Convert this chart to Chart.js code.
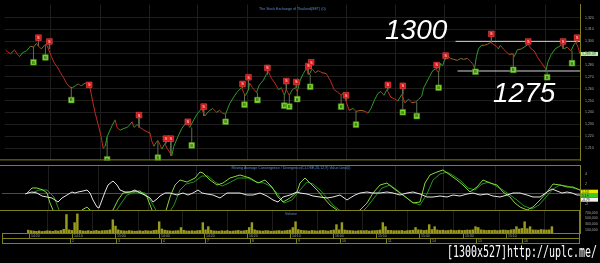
<!DOCTYPE html>
<html lang="en">
<head>
  <meta charset="UTF-8" />
  <title>SET intraday</title>
  <script src="https://cdn.jsdelivr.net/npm/chart.js"></script>
  <style>
    html, body { margin: 0; padding: 0; background: #000; }
    body { width: 600px; height: 263px; position: relative; overflow: hidden; font-family: 'Liberation Sans', Arial, sans-serif; }
    canvas { position: absolute; left: 0; }
    #priceChart { top: 0; }
    #macdChart { top: 165px; }
    #volChart { top: 211px; }
    .level { position: absolute; color: #fff; font-style: italic; font-size: 28px; line-height: 28px; }
    #mark { position: absolute; left: 447px; top: 245px; color: #fff; font-family: 'DejaVu Sans Mono', monospace;
            font-size: 15px; line-height: 15px; transform: scaleX(0.664); transform-origin: left top; white-space: nowrap; }
  </style>
</head>
<body>
  <canvas id="priceChart" width="600" height="165"></canvas>
  <canvas id="macdChart" width="600" height="46"></canvas>
  <canvas id="volChart" width="600" height="33"></canvas>
  <div class="level" style="left:385px;top:16px">1300</div>
  <div class="level" style="left:493px;top:79px">1275</div>
  <div id="mark">[1300x527]http://uplc.me/</div>

  <script>
    // bar index along the time axis (0 .. 578)
    const priceBars = [1,3,6,10,13,15,18,22,26,29,32,34,37,40,42,44,47,50,53,56,59,62,65,68,71,74,77,81,84,86,
      88,91,94,97,99,101,103,105,108,111,113,116,120,123,126,128,130,133,136,140,144,146,148,150,152,154,156,158,161,163,
      165,168,170,174,178,181,183,186,190,194,198,201,205,209,213,216,219,222,226,230,234,238,241,242,245,246,249,253,256,260,
      263,265,268,272,275,278,281,283,286,289,292,294,297,300,303,306,309,312,315,319,323,327,331,335,338,341,343,346,350,353,
      358,362,365,368,372,375,378,381,384,388,392,395,399,402,406,409,413,416,419,421,424,427,430,433,436,438,440,442,446,448,
      451,455,458,461,465,468,471,472,474,476,479,482,485,488,491,494,496,498,501,504,507,510,512,515,519,522,526,529,532,535,
      538,541,544,546,549,553,556,559,562,565,569,572,574,576,578];
    const priceValues = [1292.8,1291.2,1289.6,1292.8,1288.8,1287.2,1290.4,1292,1295.9,1295.2,
      1298.3,1295.9,1293.6,1296.7,1297.5,1293.6,1287.2,1281.6,1278.4,1273.6,
      1269.7,1264.9,1261.7,1260.9,1262.5,1264.1,1262.5,1264.9,1262.5,1260.1,
      1251.3,1239.4,1229.8,1219.5,1209.9,1211.5,1219.5,1223.5,1229,1233.8,
      1227.4,1225.1,1226.6,1227.4,1229.8,1232.2,1227.4,1229.8,1227.4,1225.1,
      1223.5,1222.7,1215.5,1211.5,1214.7,1216.3,1213.1,1209.1,1213.9,1209.9,
      1207.5,1203.5,1211.5,1219.5,1226.6,1229.8,1232.2,1227.4,1233.8,1239.4,
      1243.4,1237,1241,1243.4,1240.2,1241.8,1239.4,1238.6,1247.4,1252.9,
      1257.7,1260.9,1255.3,1254.5,1259.3,1264.9,1260.9,1256.9,1263.3,1267.3,
      1272.1,1274.4,1268.9,1264.1,1259.3,1260.9,1254.5,1259.3,1254.5,1259.3,
      1260.9,1257.7,1267.3,1272.8,1276.8,1272.1,1276.8,1273.6,1275.2,1273.6,
      1272.8,1267.3,1259.3,1256.9,1254.5,1256.9,1249.7,1241.8,1243.4,1241,
      1241.8,1241,1239.4,1243.4,1251.3,1256.1,1257.7,1254.5,1259.3,1252.9,
      1251.3,1249.7,1255.3,1248.2,1251.3,1248.2,1248.9,1251.3,1253.7,1260.9,
      1265.7,1270.5,1275.2,1276.8,1273.6,1281.6,1279.2,1284.8,1287.2,1285.6,
      1284.8,1284,1285.6,1284.8,1285.6,1283.2,1280,1276.8,1287.2,1293.6,
      1296.7,1296.7,1297.5,1299.1,1297.5,1295.9,1293.6,1296.7,1293.6,1291.2,
      1288.8,1289.6,1287.2,1292.8,1293.6,1295.2,1297.5,1293.6,1292,1287.2,
      1283.2,1280,1276,1283.2,1288.8,1293.6,1295.2,1296.7,1293.6,1295.2,
      1292,1297.5,1299.1,1295.2,1289.39];
    const lastPrice = 1289.39;

    // sell (S) and buy (B) signal markers
    const sellBars = [34,45,85,135,162,167,184,200,239,245,264,283,293,305,308,343,385,400,434,443,489,526,561,575];
    const sellPrices = [1303.1,1299.9,1263.3,1237.8,1217.9,1217.9,1232.2,1245,1264.1,1269.7,1277.6,1266.5,1265.7,1279.2,1282.4,1254.5,1263.3,1262.5,1280,1288,1306.3,1299.9,1299.9,1303.1];
    const buyBars = [29,41,67,103,154,188,222,241,254,281,286,294,307,338,353,400,414,436,473,511,545,570];
    const buyPrices = [1282.4,1286.4,1250.5,1200.4,1201.9,1212.3,1232.2,1246.6,1250.5,1245.8,1245,1251.3,1261.7,1245,1229.8,1240.2,1237,1260.9,1274.4,1276,1269.7,1281.6];

    // drawn resistance / support levels
    const levelPrices = [1300, 1275];
    const levelStarts = [453, 455];
    const levelEnd = 578;

    // MACD panel
    const whiteBars = [23,26,30,35,40,45,50,53,56,60,65,70,73,76,81,85,88,91,95,97,100,103,106,111,115,118,123,128,133,138,
      143,148,151,155,158,163,168,175,181,186,191,196,200,205,211,218,225,231,238,245,251,258,265,271,276,281,288,295,298,305,
      311,318,325,331,338,345,348,353,358,365,371,378,385,391,398,405,411,418,425,431,438,445,451,458,465,471,478,485,491,498,
      505,511,518,525,531,538,545,550,555,560,565,570,575,578];
    const whiteVals = [0,0.2,0.4,0.2,-0.4,-0.6,-0.8,-1.2,-1.6,-0.8,-0.2,0.4,0.2,0.4,0.6,0.8,0.2,-1.2,-2.6,-2.8,
      -1.2,0.4,1.8,2.6,1.8,0.8,0.4,0.4,0.8,0.2,-0.2,-0.8,-1.6,-1,-0.4,0.2,0.2,-0.2,0.2,-0.2,
      0.2,0.8,0.2,0,-0.2,-0.8,0.2,0.2,0.2,-0.2,-0.2,0.2,-0.4,-1.2,-1.6,-0.6,-0.2,0.4,0.2,0,
      -0.4,-0.6,-0.8,-0.6,-0.2,-1.2,-0.8,-0.2,0.2,0.4,0.2,0.2,0.4,0.2,-0.2,0.2,0.4,0,-0.6,-0.6,
      -0.4,-0.6,-0.2,-0.4,0,0.2,-0.2,0,-0.4,-0.6,-0.2,0.2,0.2,-0.2,-0.6,-0.6,0.4,1,0.6,0.2,
      0.4,0.2,-0.2,-0.2];
    const macdBars = [25,30,35,41,45,48,51,55,70,80,85,88,95,105,111,116,121,128,138,145,150,155,163,168,173,178,185,193,198,201,
      208,215,221,228,238,248,256,263,270,276,281,288,295,298,303,308,315,321,328,335,343,352,358,365,371,378,385,391,398,405,
      411,418,423,428,435,441,448,455,461,468,475,481,488,495,501,508,513,518,525,531,538,545,551,558,565,571,578];
    const macdVals = [0.2,1.2,1.2,0.8,0.2,-1.8,-3.2,-4.4,-4.8,-3.2,-2.6,-3.2,-4.4,-4,-3.2,-1.2,0.2,0.4,0.6,-0.6,
      -3.2,-4.4,-4,-0.6,1.8,2.8,2.4,3.2,4.4,4.2,2.8,1.8,2.2,3.2,3.8,3.2,2.2,2.8,1.4,-0.6,
      -1.6,-0.8,0.4,2.2,3.2,2.2,0.8,-0.6,-2.2,-3.2,-4.4,-4,-3.2,-1.8,0.2,1.8,2.2,1.2,0.2,-0.8,
      -1.8,-1.6,2.2,3.8,4.4,4.8,3.8,2.8,1.8,0.4,1.4,2.8,2.2,1.8,0.4,-0.6,-1.8,-2.6,-3.2,-2.6,
      -1.2,0.4,2,1.8,1.4,1.4,0.8];
    const sigBars = [30,37,45,52,57,62,78,86,92,100,112,118,125,133,143,150,156,165,172,178,184,192,200,206,213,220,227,236,246,254,
      262,268,275,282,290,298,305,311,318,325,332,340,348,358,365,372,380,388,395,402,410,418,425,431,438,445,452,459,466,473,
      480,487,494,501,508,515,522,530,537,544,551,558,565,571,578];
    const sigVals = [0.2,0.8,0.8,-0.6,-3.2,-4.4,-4.4,-3.2,-3.6,-4.4,-4,-2.2,-0.2,0.4,0.2,-1.8,-4,-4.4,-2.2,0.8,
      2,2.4,3.6,3.6,2.4,1.6,2.2,3.2,3.2,2.4,2.2,1.6,0.2,-1.8,-1.2,0.8,2.4,2,0.8,-0.8,
      -2.4,-3.6,-4.4,-4,-2.6,-0.8,1.2,1.8,0.8,-0.4,-1.6,-2.2,0,2.8,4,4.4,3.6,2.6,1.2,0.8,
      2,2.4,1.6,0.8,-0.2,-1.2,-2.4,-3,-2.2,-0.6,1,1.8,1.6,1.2,0.8];
    const macdBoxLabels = ['1.53', '1.19', '-0.79'];
    const macdBoxValues = [0.46, -0.3, -1.14];
    const macdBoxColors = ['#e6e600', '#3cc81e', '#f0f0f0'];

    // volume (thousands), one bar every 3 bar-steps from 0
    const volStep = 3;
    const volumes = [110,90,80,70,85,65,75,90,80,70, 95,80,100,140,650,120,100,370,670,100,
      85,80,95,75,85,100,80,90,95,100, 120,470,250,120,95,85,80,95,85,75,
      80,90,75,95,85,80,100,110,400,150, 110,95,85,80,90,95,200,105,85,80,
      90,80,95,100,370,120,230,105,85,80, 75,90,80,95,75,80,90,100,80,90,
      105,200,370,120,95,85,80,95,90,75, 80,90,95,80,90,100,115,200,400,130,
      105,95,90,80,100,90,80,95,100,90, 80,100,115,300,120,370,115,100,95,90,
      80,90,95,90,100,80,90,95,100,115, 370,230,105,100,90,95,90,100,80,95,
      100,110,200,120,115,100,110,300,130,230, 115,100,110,95,100,115,100,95,110,100,
      105,115,110,120,230,200,120,110,100,105, 100,110,95,105,115,110,100,120,130,230,
      150,170,400,160,230,120,115,110,130,120, 115,120,230];
    const volTicks = [100000, 300000, 500000, 700000];

    // time axis
    const dayBars = [46,96,146,194,244,294,343,393,442,493,543];
    const dayLabels = ['2','3','4','7','8','9','10','11','14','15','16'];
    const timeTickBars = [1,48,95,144,193,241,288,335,383,430,478,526];
    const timeLabels = ['14:20','14:10','15:00','14:40','14:20','16:20','14:10','16:00','15:50','15:40','15:30','15:10'];

    const UP = '#2f9b2a', DOWN = '#c42a1e', FLAT = '#a8641c';
    const OLIVE = '#80801a';
    const GRID = '#1e1e1e';
    const FAMILY = '"Liberation Sans", Arial, sans-serif';
    const SMALL = { size: 3.5, family: FAMILY };
    const TITLE_BLUE = '#5b8dd0';

    const xy = (xs, ys) => xs.map((x, i) => ({ x: x, y: ys[i] }));

    // price of the line nearest to a bar (for marker stems)
    function priceAt(bar) {
      let k = 0;
      priceBars.forEach((b, i) => { if (Math.abs(b - bar) < Math.abs(priceBars[k] - bar)) k = i; });
      return priceValues[k];
    }

    function xScale() {
      return {
        type: 'linear', min: 0, max: 578,
        afterBuildTicks: s => { s.ticks = dayBars.map(v => ({ value: v })); },
        ticks: { display: false },
        grid: { color: GRID, drawTicks: false },
        border: { display: false }
      };
    }

    function yScale(min, max, ticks, fmt, gridColor) {
      return {
        position: 'right', min: min, max: max,
        afterBuildTicks: s => { s.ticks = ticks.map(v => ({ value: v })); },
        afterFit: s => { s.width = 20; s.paddingTop = 0; s.paddingBottom = 0; },
        ticks: { font: SMALL, color: '#a6a6a6', padding: 5, autoSkip: false, callback: fmt },
        grid: { color: gridColor || GRID, drawTicks: false },
        border: { color: OLIVE }
      };
    }

    const base = {
      responsive: false,
      animation: false,
      events: [],
      plugins: { legend: { display: false }, tooltip: { enabled: false } }
    };

    // panel title + frame lines
    function panelPlugin(title, titleY, top, bottom) {
      return {
        id: 'panel',
        afterDraw(chart) {
          const { ctx, chartArea: a } = chart;
          ctx.save();
          ctx.strokeStyle = OLIVE;
          ctx.lineWidth = 1;
          ctx.beginPath();
          if (top) { ctx.moveTo(0, a.top + 0.5); ctx.lineTo(a.right, a.top + 0.5); }
          if (bottom) { ctx.moveTo(0, a.bottom - 0.5); ctx.lineTo(a.right, a.bottom - 0.5); }
          ctx.stroke();
          ctx.fillStyle = TITLE_BLUE;
          ctx.font = '3.6px ' + FAMILY;
          ctx.textAlign = 'center';
          ctx.textBaseline = 'middle';
          ctx.fillText(title, (a.left + a.right) / 2, a.top + titleY);
          ctx.restore();
        }
      };
    }

    // stems from markers to the price line
    const stemData = [];
    sellBars.forEach((b, i) => stemData.push({ x: b, y: sellPrices[i] }, { x: b, y: priceAt(b) }, { x: b, y: null }));
    buyBars.forEach((b, i) => stemData.push({ x: b, y: buyPrices[i] }, { x: b, y: priceAt(b) }, { x: b, y: null }));

    const levelData = [];
    levelPrices.forEach((p, i) => levelData.push({ x: levelStarts[i], y: p }, { x: levelEnd, y: p }, { x: levelEnd, y: null }));

    const markerText = {
      id: 'markerText',
      afterDatasetsDraw(chart) {
        const { ctx, scales: { x, y } } = chart;
        ctx.save();
        ctx.font = 'bold 4px ' + FAMILY;
        ctx.textAlign = 'center';
        ctx.textBaseline = 'middle';
        ctx.fillStyle = '#ffb4b4';
        sellBars.forEach((b, i) => ctx.fillText('S', x.getPixelForValue(b), y.getPixelForValue(sellPrices[i]) + 0.3));
        ctx.fillStyle = '#2c6412';
        buyBars.forEach((b, i) => ctx.fillText('B', x.getPixelForValue(b), y.getPixelForValue(buyPrices[i]) + 0.3));
        // current price box on the axis
        const a = chart.chartArea, py = y.getPixelForValue(lastPrice);
        ctx.fillStyle = '#c4efb4';
        ctx.fillRect(a.right + 1, py - 2, 17, 4);
        ctx.fillStyle = '#2a5a22';
        ctx.font = '3.5px ' + FAMILY;
        ctx.textAlign = 'left';
        ctx.fillText(lastPrice.toLocaleString('en-US'), a.right + 2, py + 0.2);
        ctx.restore();
      }
    };

    new Chart(document.getElementById('priceChart'), {
      type: 'line',
      data: {
        datasets: [
          {
            data: xy(sellBars, sellPrices), showLine: false, order: 0,
            pointStyle: 'rect', pointRadius: 4, backgroundColor: '#d41616', borderColor: '#f04a4a', borderWidth: 0.6
          },
          {
            data: xy(buyBars, buyPrices), showLine: false, order: 0,
            pointStyle: 'rect', pointRadius: 4, backgroundColor: '#80d630', borderColor: '#4c8c1c', borderWidth: 0.6
          },
          {
            data: xy(priceBars, priceValues), order: 1, borderWidth: 1, pointRadius: 0, tension: 0,
            borderColor: UP,
            segment: {
              borderColor: c => {
                const d = c.p1.parsed.y - c.p0.parsed.y;
                return d > 0.8 ? UP : d < -0.8 ? DOWN : FLAT;
              }
            }
          },
          { data: stemData, order: 2, borderColor: '#5e6e50', borderWidth: 1, pointRadius: 0, spanGaps: false },
          { data: levelData, order: 3, borderColor: '#d6d6d6', borderWidth: 1, pointRadius: 0, spanGaps: false }
        ]
      },
      options: {
        ...base,
        layout: { padding: { left: 2, top: 0, bottom: 0, right: 0 } },
        scales: {
          x: xScale(),
          y: yScale(1199.6, 1331, [1210,1220,1230,1240,1250,1260,1270,1280,1290,1300,1310,1320],
            v => v.toLocaleString('en-US'))
        }
      },
      plugins: [markerText, panelPlugin('The Stock Exchange of Thailand(SET) (0)', 4, false, true)]
    });

    const macdBoxes = {
      id: 'macdBoxes',
      afterDraw(chart) {
        const { ctx, chartArea: a, scales: { y } } = chart;
        ctx.save();
        ctx.font = '3.4px ' + FAMILY;
        ctx.textBaseline = 'middle';
        macdBoxValues.forEach((v, i) => {
          const py = y.getPixelForValue(v);
          ctx.fillStyle = macdBoxColors[i];
          ctx.fillRect(a.right + 1, py - 2, 17, 4);
          ctx.fillStyle = '#202020';
          ctx.fillText(macdBoxLabels[i], a.right + 2, py + 0.2);
        });
        ctx.restore();
      }
    };

    new Chart(document.getElementById('macdChart'), {
      type: 'line',
      data: {
        datasets: [
          { data: xy(whiteBars, whiteVals), borderColor: '#e6e6e6', borderWidth: 1, pointRadius: 0, order: 0 },
          { data: xy(macdBars, macdVals), borderColor: '#86d63a', borderWidth: 1, pointRadius: 0, order: 1 },
          { data: xy(sigBars, sigVals), borderColor: '#23951c', borderWidth: 1, pointRadius: 0, order: 2 }
        ]
      },
      options: {
        ...base,
        layout: { padding: { left: 2, top: 0, bottom: 0, right: 0 } },
        scales: {
          x: xScale(),
          y: yScale(-3.4, 5.8, [-2, 0, 2, 4], v => String(v),
            c => (c.tick && c.tick.value === 0 ? '#8e3030' : 'rgba(0,0,0,0)'))
        }
      },
      plugins: [macdBoxes, panelPlugin('Moving Average Convergence / Divergence(CLOSE,26,12,9) Value Line(0)', 2.5, true, true)]
    });

    const timeRows = {
      id: 'timeRows',
      afterDraw(chart) {
        const { ctx, chartArea: a, scales: { x } } = chart;
        const r1 = a.bottom + 0.5, r2 = r1 + 5, r3 = r2 + 5;
        const px = b => Math.round(x.getPixelForValue(b)) + 0.5;
        ctx.save();
        ctx.strokeStyle = OLIVE;
        ctx.lineWidth = 1;
        ctx.beginPath();
        [r1, r2, r3].forEach(yy => { ctx.moveTo(a.left, yy); ctx.lineTo(a.right, yy); });
        ctx.moveTo(a.left + 0.5, r1); ctx.lineTo(a.left + 0.5, r3);
        ctx.moveTo(a.right - 0.5, a.top); ctx.lineTo(a.right - 0.5, r3);
        timeTickBars.forEach(b => { ctx.moveTo(px(b), r1); ctx.lineTo(px(b), r2); });
        dayBars.forEach(b => { ctx.moveTo(px(b), r2); ctx.lineTo(px(b), r3); });
        ctx.stroke();
        ctx.fillStyle = '#a0a0a0';
        ctx.font = '3.5px ' + FAMILY;
        ctx.textBaseline = 'middle';
        timeTickBars.forEach((b, i) => ctx.fillText(timeLabels[i], px(b) + 1.5, r1 + 2.6));
        dayBars.forEach((b, i) => ctx.fillText(dayLabels[i], px(b) + 1.5, r2 + 2.6));
        ctx.restore();
      }
    };

    new Chart(document.getElementById('volChart'), {
      type: 'bar',
      data: {
        datasets: [{
          data: volumes.map((v, i) => ({ x: i * volStep, y: v * 1000 })),
          backgroundColor: '#9a9a1c',
          barPercentage: 1,
          categoryPercentage: 0.9
        }]
      },
      options: {
        ...base,
        layout: { padding: { left: 2, top: 0, bottom: 11, right: 0 } },
        scales: {
          x: xScale(),
          y: yScale(0, 760000, volTicks, v => v.toLocaleString('en-US'), 'rgba(0,0,0,0)')
        }
      },
      plugins: [timeRows, panelPlugin('Volume', 2.5, false, false)]
    });
  </script>
</body>
</html>
